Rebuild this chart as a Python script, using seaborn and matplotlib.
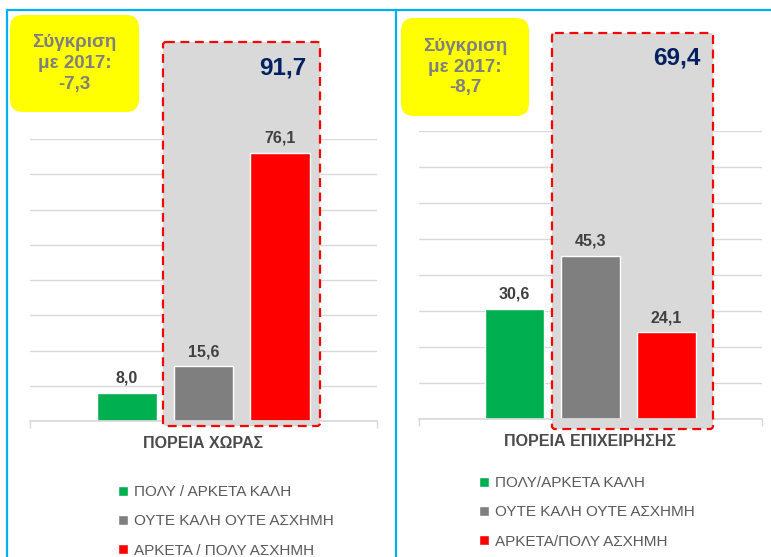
import matplotlib
matplotlib.use("Agg")
import matplotlib.pyplot as plt
import seaborn as sns
import pandas as pd
from matplotlib.patches import FancyBboxPatch
from matplotlib.lines import Line2D
from matplotlib.transforms import Affine2D

# data
left_category = ["ΠΟΡΕΙΑ ΧΩΡΑΣ"]
left_labels = ["ΠΟΛΥ / ΑΡΚΕΤΑ ΚΑΛΗ", "ΟΥΤΕ ΚΑΛΗ ΟΥΤΕ ΑΣΧΗΜΗ", "ΑΡΚΕΤΑ / ΠΟΛΥ ΑΣΧΗΜΗ"]
left_values = [8.0, 15.6, 76.1]

right_category = ["ΠΟΡΕΙΑ ΕΠΙΧΕΙΡΗΣΗΣ"]
right_labels = ["ΠΟΛΥ/ΑΡΚΕΤΑ ΚΑΛΗ", "ΟΥΤΕ ΚΑΛΗ ΟΥΤΕ ΑΣΧΗΜΗ", "ΑΡΚΕΤΑ/ΠΟΛΥ ΑΣΧΗΜΗ"]
right_values = [30.6, 45.3, 24.1]

boxed_totals = [91.7, 69.4]
compare_2017 = [-7.3, -8.7]

colors = ["#00b050", "#7f7f7f", "#ff0000"]

sns.set_theme(style="white")
plt.rcParams["font.family"] = ["Liberation Sans Narrow", "Liberation Sans", "DejaVu Sans"]

W, H = 771, 557
fig = plt.figure(figsize=(W / 100, H / 100), dpi=100)
# pixel coords, origin top-left
px = Affine2D().scale(1 / W, -1 / H).translate(0, 1) + fig.transFigure


def gr(v):
    return f"{v:.1f}".replace(".", ",")


def panel(rect, category, labels, values, total, comp, gbox, ybox, total_xy, leg_xy):
    l, t, r, b = rect
    ax = fig.add_axes([l / W, 1 - b / H, (r - l) / W, (b - t) / H])
    df = pd.DataFrame({"cat": category * len(values), "grp": labels, "val": values})
    sns.barplot(data=df, x="cat", y="val", hue="grp", hue_order=labels,
                palette=colors, width=0.663, gap=0.22, saturation=1,
                ax=ax, legend=True, zorder=2)
    ax.set_ylim(0, 80)
    ax.set_yticks(range(0, 81, 10))
    ax.set_xlim(-0.5, 0.5)
    ax.set_axisbelow(True)
    ax.grid(axis="y", color="#d9d9d9", lw=1)
    ax.tick_params(axis="y", left=False, labelleft=False)
    ax.set_xticks([0])
    ax.set_xticklabels(category, fontweight="bold", fontsize=11.5, color="#4a4a4a")
    ax.set_xticks([-0.5, 0.5], minor=True)
    ax.tick_params(axis="x", which="major", length=0, pad=11)
    ax.tick_params(axis="x", which="minor", length=5, color="#d9d9d9",
                   direction="out", bottom=True)
    ax.set_xlabel("")
    ax.set_ylabel("")
    for s in ["top", "right", "left"]:
        ax.spines[s].set_visible(False)
    ax.spines["bottom"].set_color("#d9d9d9")
    for c in ax.containers:
        ax.bar_label(c, fmt=gr, padding=5, fontsize=11.5, fontweight="bold",
                     color="#404040")

    # grey highlight box behind the two right bars
    x0, y0, x1, y1 = gbox
    ax.add_patch(FancyBboxPatch((x0, y0), x1 - x0, y1 - y0,
                                boxstyle="round,pad=0,rounding_size=3",
                                transform=px, facecolor="#d9d9d9",
                                edgecolor="none", zorder=0.8, clip_on=False))
    ax.add_patch(FancyBboxPatch((x0, y0), x1 - x0, y1 - y0,
                                boxstyle="round,pad=0,rounding_size=3",
                                transform=px, facecolor="none",
                                edgecolor="#ff0000", lw=1.6,
                                linestyle=(0, (4, 2.5)), zorder=3, clip_on=False))
    ax.text(total_xy[0], total_xy[1], gr(total), transform=px, ha="right",
            va="center", fontsize=17.5, fontweight="bold", color="#002060")

    # yellow comparison box
    x0, y0, x1, y1 = ybox
    fig.patches.append(FancyBboxPatch((x0, y0), x1 - x0, y1 - y0,
                                      boxstyle="round,pad=0,rounding_size=13",
                                      transform=px, facecolor="#ffff00",
                                      edgecolor="none"))
    fig.text((x0 + x1) / 2, (y0 + y1) / 2, "Σύγκριση\nμε 2017:\n" + gr(comp),
             transform=px, ha="center", va="center", fontsize=13.5,
             fontweight="bold", color="#7f7f7f", linespacing=1.3)

    handles, _ = ax.get_legend_handles_labels()
    ax.legend(handles, labels, loc="upper left", bbox_to_anchor=leg_xy,
              bbox_transform=px, frameon=False, fontsize=11,
              labelcolor="#595959", handlelength=0.65, handleheight=0.65,
              handletextpad=0.4, labelspacing=1.0, borderpad=0, borderaxespad=0)
    return ax


panel((30, 139, 377, 421), left_category, left_labels, left_values,
      boxed_totals[0], compare_2017[0], (163, 42, 320, 426), (10, 15, 139, 112),
      (306, 68), (118, 485))
panel((419, 131, 762, 419), right_category, right_labels, right_values,
      boxed_totals[1], compare_2017[1], (552, 33, 713, 429), (401, 18, 529, 116),
      (701, 58), (479, 476))

# blue frame lines
for xs, ys in [((7, 7), (10, 557)), ((7, 771), (10, 10)), ((396, 396), (10, 557))]:
    fig.add_artist(Line2D(xs, ys, transform=px, color="#00b0f0", lw=1.6))

fig.savefig("out.png", dpi=100)
